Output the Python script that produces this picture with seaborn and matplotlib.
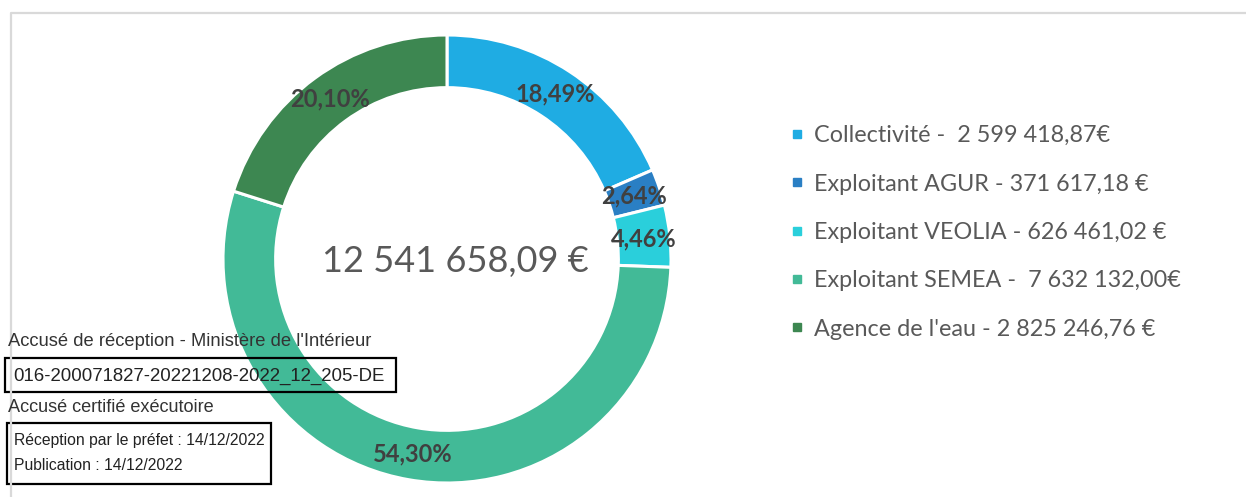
import matplotlib
matplotlib.use("Agg")
import matplotlib.pyplot as plt
import seaborn as sns
import numpy as np
from matplotlib.lines import Line2D
from matplotlib.patches import Rectangle

# ---- data ----
categories = ["Collectivité", "Exploitant AGUR", "Exploitant VEOLIA",
              "Exploitant SEMEA", "Agence de l'eau"]
shares = [18.49, 2.64, 4.46, 54.30, 20.10]
pct_labels = ["18,49%", "2,64%", "4,46%", "54,30%", "20,10%"]
legend_labels = ["Collectivité -  2 599 418,87€",
                 "Exploitant AGUR - 371 617,18 €",
                 "Exploitant VEOLIA - 626 461,02 €",
                 "Exploitant SEMEA -  7 632 132,00€",
                 "Agence de l'eau - 2 825 246,76 €"]
total_label = "12 541 658,09 €"
stamp_title = "Accusé de réception - Ministère de l'Intérieur"
stamp_id = "016-200071827-20221208-2022_12_205-DE"
stamp_cert = "Accusé certifié exécutoire"
stamp_recep = "Réception par le préfet : 14/12/2022"
stamp_pub = "Publication : 14/12/2022"

sns.set_theme(style="white")
plt.rcParams['font.family'] = ['Lato', 'DejaVu Sans']

colors = sns.color_palette(["#1FACE3", "#2A7FC4", "#2ACFDB", "#42BA97", "#3D8751"])

W, H = 1246, 497
fig = plt.figure(figsize=(W / 100, H / 100), dpi=100)

cx, cy, R = 447, 259, 224
ax = fig.add_axes([(cx - R) / W, (H - cy - R) / H, 2 * R / W, 2 * R / H])
wedges, _ = ax.pie(shares, colors=colors, startangle=90, counterclock=False,
                   radius=1.0, wedgeprops=dict(width=0.235, edgecolor="white", linewidth=2.2))
ax.set_xlim(-1, 1)
ax.set_ylim(-1, 1)
ax.set_aspect("equal")
ax.axis("off")

for w, lab in zip(wedges, pct_labels):
    ang = np.deg2rad((w.theta1 + w.theta2) / 2)
    r = 0.883
    ax.text(r * np.cos(ang), r * np.sin(ang), lab, ha="center", va="center",
            fontsize=17, fontweight="bold", color="#404040")

ax.text(0.036, -0.013, total_label, ha="center", va="center", fontsize=26,
        color="#595959")

handles = [Line2D([0], [0], marker="s", linestyle="none", markersize=6,
                  markerfacecolor=c, markeredgecolor=c) for c in colors]
leg = fig.legend(handles, legend_labels, loc="upper left",
                 bbox_to_anchor=(781 / W, 1 - 116 / H), frameon=False,
                 fontsize=16.8, labelcolor="#595959", handlelength=0.6,
                 handletextpad=0.4, labelspacing=1.17, borderaxespad=0)

# grey frame border
fig.add_artist(Line2D([11 / W, 11 / W, 1.0], [0, 1 - 13 / H, 1 - 13 / H],
                      transform=fig.transFigure, color="#d9d9d9", linewidth=1.6))

# stamp
sf = ['Liberation Sans', 'DejaVu Sans']
fig.text(8 / W, 1 - 342 / H, stamp_title, family=sf, fontsize=13.2, color="#333333",
         va="center", ha="left")
fig.add_artist(Rectangle((5 / W, 1 - 392 / H), 391 / W, 34 / H, transform=fig.transFigure,
                         fill=False, edgecolor="black", linewidth=1.6))
fig.text(13 / W, 1 - 376 / H, stamp_id, family=sf, fontsize=13.4, color="#222222",
         va="center", ha="left")
fig.text(8 / W, 1 - 408 / H, stamp_cert, family=sf, fontsize=13.1, color="#333333",
         va="center", ha="left")
fig.add_artist(Rectangle((7 / W, 1 - 484 / H), 264 / W, 61 / H, transform=fig.transFigure,
                         fill=False, edgecolor="black", linewidth=1.6))
fig.text(14 / W, 1 - 440 / H, stamp_recep, family=sf, fontsize=11.3, color="#222222",
         va="center", ha="left")
fig.text(14 / W, 1 - 466 / H, stamp_pub, family=sf, fontsize=11.3, color="#222222",
         va="center", ha="left")

fig.savefig("out.png", dpi=100)
